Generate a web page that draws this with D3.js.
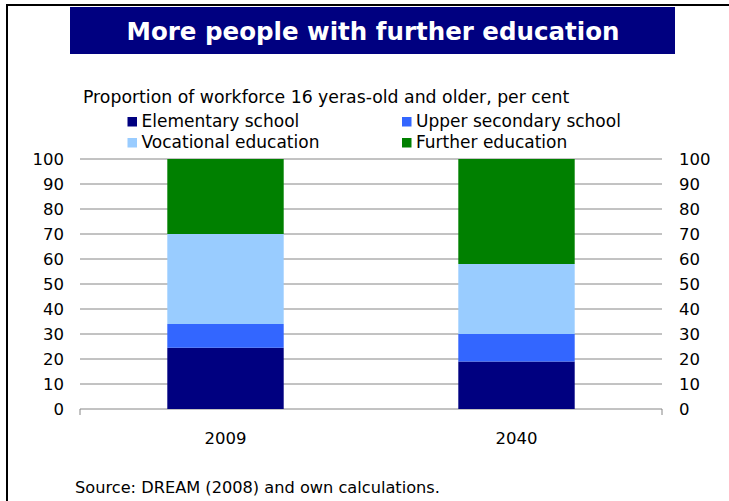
<!DOCTYPE html>
<html><head><meta charset="utf-8">
<script src="https://cdn.jsdelivr.net/npm/d3@7"></script>
<style>body{margin:0;background:#fff}svg{display:block}</style>
</head><body>
<script>
const categories = ["2009", "2040"];
const seriesNames = ["Elementary school", "Upper secondary school", "Vocational education", "Further education"];
const elementary = [24.5, 19];
const upperSecondary = [9.5, 11];
const vocational = [36, 28];
const further = [30, 42];
const yTicks = [0, 10, 20, 30, 40, 50, 60, 70, 80, 90, 100];
const colors = ["#000080", "#3366ff", "#99ccff", "#008000"];
const title = "More people with further education";
const subtitle = "Proportion of workforce 16 yeras-old and older, per cent";
const source = "Source: DREAM (2008) and own calculations.";

(function () {
const W = 729, H = 501;
const svg = d3.select("body").append("svg").attr("width", W).attr("height", H);
const font = "'DejaVu Sans', Verdana, sans-serif";

// frame
svg.append("path").attr("d", `M7,${H} V5 H${W}`).attr("fill", "none").attr("stroke", "#000").attr("stroke-width", 2);

// title
svg.append("rect").attr("x", 70).attr("y", 7).attr("width", 605).attr("height", 47).attr("fill", "#000080");
svg.append("text").attr("x", 373).attr("y", 39.5).attr("text-anchor", "middle").attr("fill", "#fff")
  .attr("font-family", font).attr("font-weight", "bold").attr("font-size", 24.5).text(title);

svg.append("text").attr("x", 83).attr("y", 103).attr("font-family", font).attr("font-size", 17.3).attr("fill", "#000").text(subtitle);

// legend
const legPos = [[127.5, 127], [402, 127], [127.5, 148], [402, 148]];
seriesNames.forEach((n, i) => {
  const [lx, ly] = legPos[i];
  svg.append("rect").attr("x", lx).attr("y", ly - 10).attr("width", 9.5).attr("height", 9.5).attr("fill", colors[i]);
  svg.append("text").attr("x", lx + 14).attr("y", ly).attr("font-family", font).attr("font-size", 17).attr("fill", "#000").text(n);
});

const pl = 80, pr = 662, pt = 159, pb = 409;
const x = d3.scaleBand().domain(categories).range([pl, pr]).paddingInner(0.6).paddingOuter(0.3);
const y = d3.scaleLinear().domain([0, 100]).range([pb, pt]);

// gridlines
svg.append("g").selectAll("line").data(yTicks).join("line")
  .attr("x1", pl).attr("x2", pr).attr("y1", d => y(d)).attr("y2", d => y(d))
  .attr("stroke", "#868686").attr("stroke-width", 1);
svg.append("line").attr("x1", pl).attr("x2", pl).attr("y1", pb).attr("y2", pb + 6).attr("stroke", "#868686");
svg.append("line").attr("x1", pr).attr("x2", pr).attr("y1", pb).attr("y2", pb + 6).attr("stroke", "#868686");

// stacked bars
const rows = categories.map((c, i) => ({cat: c, s0: elementary[i], s1: upperSecondary[i], s2: vocational[i], s3: further[i]}));
const stack = d3.stack().keys(["s0", "s1", "s2", "s3"])(rows);
svg.append("g").selectAll("g").data(stack).join("g").attr("fill", (d, i) => colors[i])
  .selectAll("rect").data(d => d).join("rect")
  .attr("x", d => x(d.data.cat)).attr("width", x.bandwidth())
  .attr("y", d => y(d[1])).attr("height", d => y(d[0]) - y(d[1]));

// axes
const yl = svg.append("g").attr("transform", `translate(${pl},0)`)
  .call(d3.axisLeft(y).tickValues(yTicks).tickSize(0).tickPadding(16));
const yr = svg.append("g").attr("transform", `translate(${pr},0)`)
  .call(d3.axisRight(y).tickValues(yTicks).tickSize(0).tickPadding(17));
[yl, yr].forEach(g => {
  g.select(".domain").remove();
  g.selectAll("text").attr("font-family", font).attr("font-size", 16.5).attr("fill", "#000");
});
const xa = svg.append("g").attr("transform", `translate(0,${pb})`)
  .call(d3.axisBottom(x).tickSize(0).tickPadding(23));
xa.select(".domain").remove();
xa.selectAll("text").attr("font-family", font).attr("font-size", 16.5).attr("fill", "#000");

svg.append("text").attr("x", 75).attr("y", 493).attr("font-family", font).attr("font-size", 16.2).attr("fill", "#000").text(source);
})();
</script>
</body></html>
